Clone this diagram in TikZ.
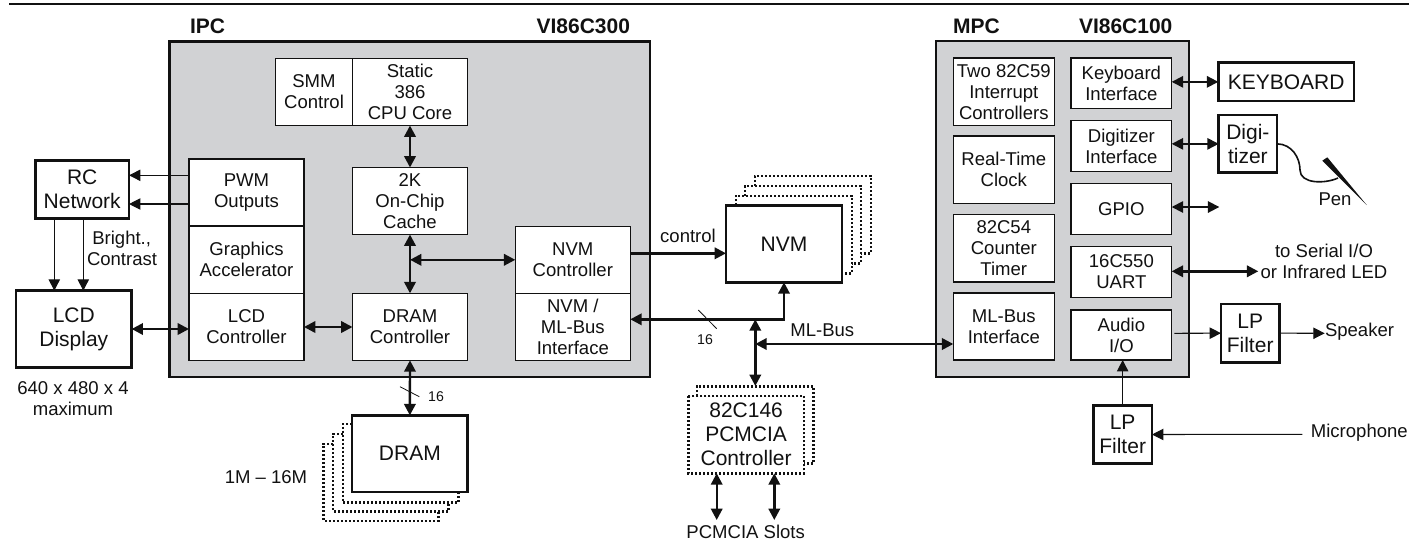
\documentclass[tikz,border=0pt]{standalone}
\usepackage{fontspec}
\setmainfont{Liberation Sans}
\usetikzlibrary{arrows.meta}
\definecolor{chipgray}{HTML}{D1D2D4}
\definecolor{ink}{HTML}{111111}
\tikzset{
  wh/.style 2 args={minimum width=#1*0.75pt,minimum height=#2*0.75pt},
  base/.style={draw=ink,outer sep=0pt,inner sep=0pt,align=center,text=ink},
  norm/.style={font=\fontsize{13.9}{15.75}\selectfont},
  big/.style={font=\fontsize{15.75}{18}\selectfont},
  chip/.style={base,fill=chipgray,line width=1.7pt},
  inner/.style={base,norm,fill=white,line width=0.8pt},
  ext/.style={base,big,fill=white,line width=1.9pt},
  label/.style={inner sep=0pt,outer sep=0pt,align=center,text=ink,norm},
  small/.style={inner sep=0pt,outer sep=0pt,text=ink,font=\fontsize{10.6}{12}\selectfont},
  title/.style={inner sep=0pt,outer sep=0pt,text=ink,font=\fontsize{15.75}{18}\selectfont\bfseries},
  stack/.style={draw=ink,line width=1.8pt,dash pattern=on 1.5pt off 1.5pt},
  tipA/.tip={Triangle[length=8.5pt,width=8.5pt]},
  thin line/.style={draw=ink,line width=0.8pt,-{tipA},fill=none},
  bus/.style={draw=ink,line width=1.8pt,{tipA}-{tipA}},
  bus one/.style={draw=ink,line width=1.8pt,-{tipA}},
  link/.style={draw=ink,line width=1.3pt,{tipA}-{tipA}},
  tick/.style={draw=ink,line width=0.6pt},
}
\begin{document}
\begin{tikzpicture}[x=0.75pt,y=-0.75pt]
\useasboundingbox (0,0) rectangle (1409,540);
\draw[ink,line width=1.6pt] (9,4) -- (1409,4);
% chips
\node[chip,wh={480.5}{335.5}] (ipc) at (409.75,209.25) {};
\node[chip,wh={252.7}{335.7}] (mpc) at (1062.65,209.15) {};
\node[title,anchor=base west] (ipct) at (190,33) {IPC};
\node[title,anchor=base east] (ipcv) at (630,33) {VI86C300};
\node[title,anchor=base west] (mpct) at (953,33) {MPC};
\node[title,anchor=base west] (mpcv) at (1079,33) {VI86C100};
% IPC blocks
\node[inner,wh={77}{67}] (smm) at (314,92) {SMM\\Control};
\node[inner,wh={115}{67}] (cpu) at (410,92) {Static\\386\\CPU Core};
\node[inner,wh={115}{67}] (cache) at (410,201) {2K\\On-Chip\\Cache};
\node[inner,wh={115}{67}] (pwm) at (246.5,192.5) {PWM\\Outputs};
\node[inner,wh={115}{67.3}] (gfx) at (246.5,259.65) {Graphics\\Accelerator};
\node[inner,wh={115}{67}] (lcdc) at (246.5,326.8) {LCD\\Controller};
\node[inner,wh={115}{67}] (dramc) at (410,326.8) {DRAM\\Controller};
\node[inner,wh={115}{67}] (nvmc) at (572.8,259.8) {NVM\\Controller};
\node[inner,wh={115}{67}] (nvmif) at (572.8,326.8) {NVM /\\ML-Bus\\Interface};
% external left
\node[ext,wh={93.7}{57.6}] (rc) at (82.2,189.5) {RC\\Network};
\node[ext,wh={115.7}{76.6}] (lcd) at (73.8,329) {LCD\\Display};
\node[label,align=left,anchor=west] (bright) at (87,248.5) {\hspace*{4pt}Bright.,\\Contrast};
\node[label] (res) at (73,398.5) {640 x 480 x 4\\maximum};
\node[label] (size) at (266,476.7) {1M – 16M};
% DRAM stack
\draw[stack] (352,424) -- (342.7,424) -- (342.7,502.3) -- (458.3,502.3) -- (458.3,492);
\draw[stack] (342.7,434) -- (333,434) -- (333,511.3) -- (448.3,511.3) -- (448.3,502.3);
\draw[stack] (333,444) -- (323.3,444) -- (323.3,520.7) -- (438.3,520.7) -- (438.3,511.3);
\node[ext,wh={115.7}{76.7}] (dram) at (409.85,453.65) {DRAM};
% NVM stack
\draw[stack] (735.7,205) -- (735.7,195.7) -- (851.7,195.7) -- (851.7,273.3) -- (842,273.3);
\draw[stack] (745,195.7) -- (745,186) -- (861,186) -- (861,263.3) -- (851.7,263.3);
\draw[stack] (755,186) -- (755,176) -- (870.7,176) -- (870.7,253.3) -- (861,253.3);
\node[ext,wh={116}{77}] (nvm) at (784,243.8) {NVM};
\node[label] (ctl) at (688,236) {control};
% PCMCIA
\draw[stack] (696.7,396) -- (696.7,386.3) -- (813.3,386.3) -- (813.3,463.3) -- (804,463.3);
\node[base,big,draw=none,fill=white,wh={115.7}{77.3}] (pcm) at (746.15,434.65) {82C146\\PCMCIA\\Controller};
\draw[stack] (pcm.north west) rectangle (pcm.south east);
\node[label] (slots) at (745.7,531.5) {PCMCIA Slots};
\node[label] (mlb) at (822.3,330.7) {ML-Bus};
% MPC blocks
\node[inner,wh={101}{67.3}] (pic) at (1003.8,91.65) {Two 82C59\\Interrupt\\Controllers};
\node[inner,wh={101}{67.3}] (rtc) at (1003.8,169.65) {Real-Time\\Clock};
\node[inner,wh={101}{67.3}] (ctr) at (1003.8,248.35) {82C54\\Counter\\Timer};
\node[inner,wh={101}{67}] (mlif) at (1003.8,326.5) {ML-Bus\\Interface};
\node[inner,wh={100.7}{50.3}] (kbi) at (1121.35,83.15) {Keyboard\\Interface};
\node[inner,wh={100.7}{50.6}] (dgi) at (1121.35,146) {Digitizer\\Interface};
\node[inner,wh={100.7}{50.6}] (gpio) at (1121.35,209) {GPIO};
\node[inner,wh={100.7}{50.6}] (uart) at (1121.35,272) {16C550\\UART};
\node[inner,wh={100.7}{50}] (aud) at (1121.35,335) {Audio\\I/O};
% external right
\node[ext,wh={135.7}{38.3}] (kbd) at (1286.15,81.85) {KEYBOARD};
\node[ext,wh={58.3}{57.7}] (dig) at (1247.85,143.85) {Digi-\\tizer};
\node[ext,wh={58.3}{58.3}] (lp1) at (1250.15,333.15) {LP\\Filter};
\node[ext,wh={58.7}{58.4}] (lp2) at (1122.65,434.5) {LP\\Filter};
\node[label] (ser) at (1324,261) {to Serial I/O\\or Infrared LED};
\node[label,anchor=west] (spk) at (1325,332) {Speaker};
\node[label] (mic) at (1359.3,433) {Microphone};
\node[label] (pen) at (1335,199.3) {Pen};
% free ends
\coordinate (gpioend) at (1219.3,207);
\coordinate (uartend) at (1258.3,271.3);
\coordinate (micstart) at (1302.3,434.3);
\coordinate (busj) at (755.3,319.3);
\coordinate (mlj) at (755.3,344);
\coordinate (pcmtop) at (755.3,386);
% connectors IPC side
\draw[thin line] (pwm.west |- 0,175.3) -- (rc.east |- 0,175.3);
\draw[thin line] (pwm.west |- 0,204) -- (rc.east |- 0,204);
\draw[thin line] (rc.south -| 54.3,0) -- (lcd.north -| 54.3,0);
\draw[thin line] (rc.south -| 83.3,0) -- (lcd.north -| 83.3,0);
\draw[bus] (lcd.east) -- (lcdc.west |- lcd.east);
\draw[bus] (lcdc.east |- 0,327) -- (dramc.west |- 0,327);
\draw[bus] (cpu.south) -- (cache.north);
\draw[bus] (cache.south) -- (dramc.north);
\draw[bus] (cache.south |- nvmc.west) -- (nvmc.west);
\draw[bus] (dramc.south) -- (dram.north);
\draw[tick] (400,386.7) -- (419.3,396.7);
\node[small] (n16a) at (436,396.7) {16};
% NVM
\draw[bus one] (nvmc.east |- 0,253.3) -- (nvm.west |- 0,253.3);
\draw[bus] (nvm.south) |- (nvmif.east |- busj);
\draw[tick] (698.3,310) -- (716.7,328.7);
\node[small] (n16b) at (705,340) {16};
\draw[bus] (busj) -- (pcmtop);
\draw[bus] (mlj) -- (mlif.west |- mlj);
\draw[bus] (pcm.south -| 716.7,0) -- (716.7,520);
\draw[bus] (pcm.south -| 774.3,0) -- (774.3,520);
% MPC side
\draw[link] (kbi.east |- kbd.west) -- (kbd.west);
\draw[link] (dgi.east |- dig.west) -- (dig.west);
\draw[link] (gpio.east |- gpioend) -- (gpioend);
\draw[bus] (uart.east |- uartend) -- (uartend);
\draw[thin line] (1174.3,333.3) -- (lp1.west);
\draw[thin line] (lp1.east) -- (1324.7,333.3);
\draw[thin line] (lp2.north) -- (lp2.north |- aud.south);
\draw[thin line] (micstart) -- (lp2.east);
% pen
\draw[ink,line width=1.2pt] (dig.east) .. controls (1292,144) and (1300,158) .. (1300,170) .. controls (1300,184) and (1325,184) .. (1338,178);
\fill[ink] (1322.3,160.7) -- (1327.3,157.3) -- (1366.7,205) -- cycle;
\end{tikzpicture}
\end{document}
